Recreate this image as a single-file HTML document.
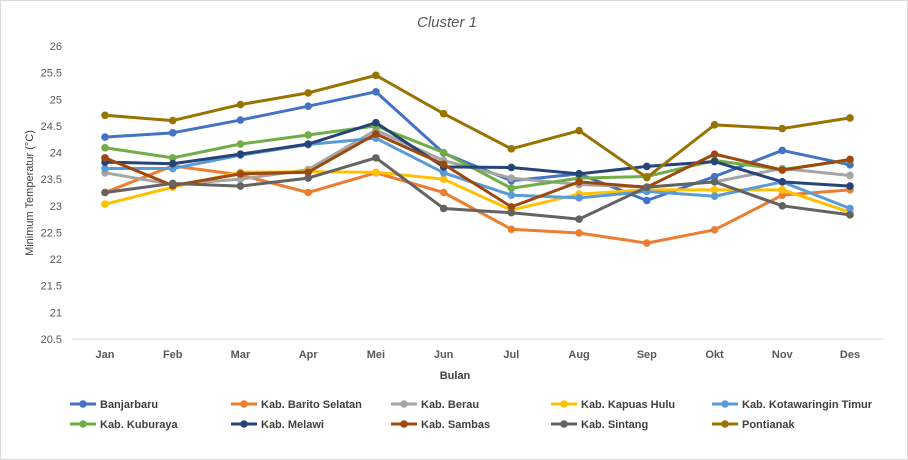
<!DOCTYPE html>
<html><head><meta charset="utf-8"><style>
html,body{margin:0;padding:0;background:#fff;}
svg{display:block;font-family:"Liberation Sans",sans-serif;}
</style></head><body>
<svg id="chart" width="908" height="460">
<rect x="0.5" y="0.5" width="907" height="459" fill="#fff" stroke="#d9d9d9"/>
<text x="447" y="27" text-anchor="middle" font-size="15" font-style="italic" fill="#595959">Cluster 1</text>
<text transform="translate(33,193) rotate(-90)" text-anchor="middle" font-size="11" fill="#404040">Minimum Temperatur (°C)</text>
<text x="455" y="379" text-anchor="middle" font-size="11" font-weight="bold" fill="#404040">Bulan</text>
<g id="axes"></g><g id="series"></g><g id="legend"></g>
</svg>
<script>
const months = ["Jan","Feb","Mar","Apr","Mei","Jun","Jul","Aug","Sep","Okt","Nov","Des"];
const yTicks = [20.5,21,21.5,22,22.5,23,23.5,24,24.5,25,25.5,26];
const seriesNames = ["Banjarbaru","Kab. Barito Selatan","Kab. Berau","Kab. Kapuas Hulu","Kab. Kotawaringin Timur","Kab. Kuburaya","Kab. Melawi","Kab. Sambas","Kab. Sintang","Pontianak"];
const banjarbaru = [24.29,24.37,24.61,24.87,25.14,23.99,23.47,23.6,23.1,23.55,24.04,23.77];
const baritoSelatan = [23.25,23.75,23.58,23.25,23.62,23.25,22.56,22.49,22.3,22.55,23.2,23.3];
const berau = [23.62,23.4,23.5,23.68,24.42,23.85,23.52,23.4,23.35,23.45,23.7,23.57];
const kapuasHulu = [23.03,23.35,23.63,23.64,23.63,23.5,22.92,23.22,23.3,23.3,23.3,22.88];
const kotawaringin = [23.7,23.7,23.95,24.15,24.27,23.62,23.2,23.15,23.27,23.18,23.45,22.95];
const kuburaya = [24.09,23.9,24.16,24.33,24.5,24.0,23.33,23.52,23.55,23.85,23.68,23.86];
const melawi = [23.82,23.79,23.97,24.16,24.56,23.73,23.72,23.6,23.74,23.83,23.45,23.37];
const sambas = [23.9,23.38,23.6,23.63,24.35,23.78,22.98,23.45,23.35,23.97,23.67,23.87];
const sintang = [23.25,23.42,23.37,23.52,23.9,22.95,22.87,22.75,23.35,23.45,23.0,22.83];
const pontianak = [24.7,24.6,24.9,25.12,25.45,24.73,24.07,24.41,23.53,24.52,24.45,24.65];

const colors = ["#4472c4","#ed7d31","#a5a5a5","#ffc000","#5b9bd5","#70ad47","#264478","#9e480e","#636363","#997300"];
const allSeries = [banjarbaru,baritoSelatan,berau,kapuasHulu,kotawaringin,kuburaya,melawi,sambas,sintang,pontianak];
const NS="http://www.w3.org/2000/svg";
const x0=105, x1=850, yMin=20.5, yMax=26, py0=339, py1=46;
const xScale=i=>x0+i*(x1-x0)/(months.length-1);
const yScale=v=>py0-(v-yMin)*(py0-py1)/(yMax-yMin);
function mk(tag,attrs,parent){const e=document.createElementNS(NS,tag);for(const k in attrs)e.setAttribute(k,attrs[k]);parent.appendChild(e);return e;}
const axes=document.getElementById('axes');
const xl=mk('line',{x1:72,x2:884,y1:py0,y2:py0,stroke:'#d9d9d9'},axes);


yTicks.forEach(t=>{const e=mk('text',{x:62,y:yScale(t)+4,'text-anchor':'end','font-size':11,fill:'#595959'},axes);e.textContent=t;

});
months.forEach((m,i)=>{const e=mk('text',{x:xScale(i),y:358,'text-anchor':'middle','font-size':11,'font-weight':'bold',fill:'#595959'},axes);e.textContent=m;

});
const sg=document.getElementById('series');
allSeries.forEach((s,k)=>{const g=mk('g',{},sg);


const pl=mk('polyline',{points:s.map((v,i)=>xScale(i)+','+yScale(v)).join(' '),fill:'none',stroke:colors[k],'stroke-width':3,'stroke-linejoin':'round'},g);


s.forEach((v,i)=>{const c=mk('circle',{cx:xScale(i),cy:yScale(v),r:3.8,fill:colors[k]},g);

});});
const lg=document.getElementById('legend');
const lx=[70,231,391,551,712], ly=[404,424];
seriesNames.forEach((n,k)=>{const x=lx[k%5], y=ly[Math.floor(k/5)];
const g=mk('g',{},lg);


mk('line',{x1:x,x2:x+26,y1:y,y2:y,stroke:colors[k],'stroke-width':3},g);
mk('circle',{cx:x+13,cy:y,r:3.8,fill:colors[k]},g);
const t=mk('text',{x:x+30,y:y+4,'font-size':11,'font-weight':'bold',fill:'#404040'},g);t.textContent=n;});
</script>
</body></html>
